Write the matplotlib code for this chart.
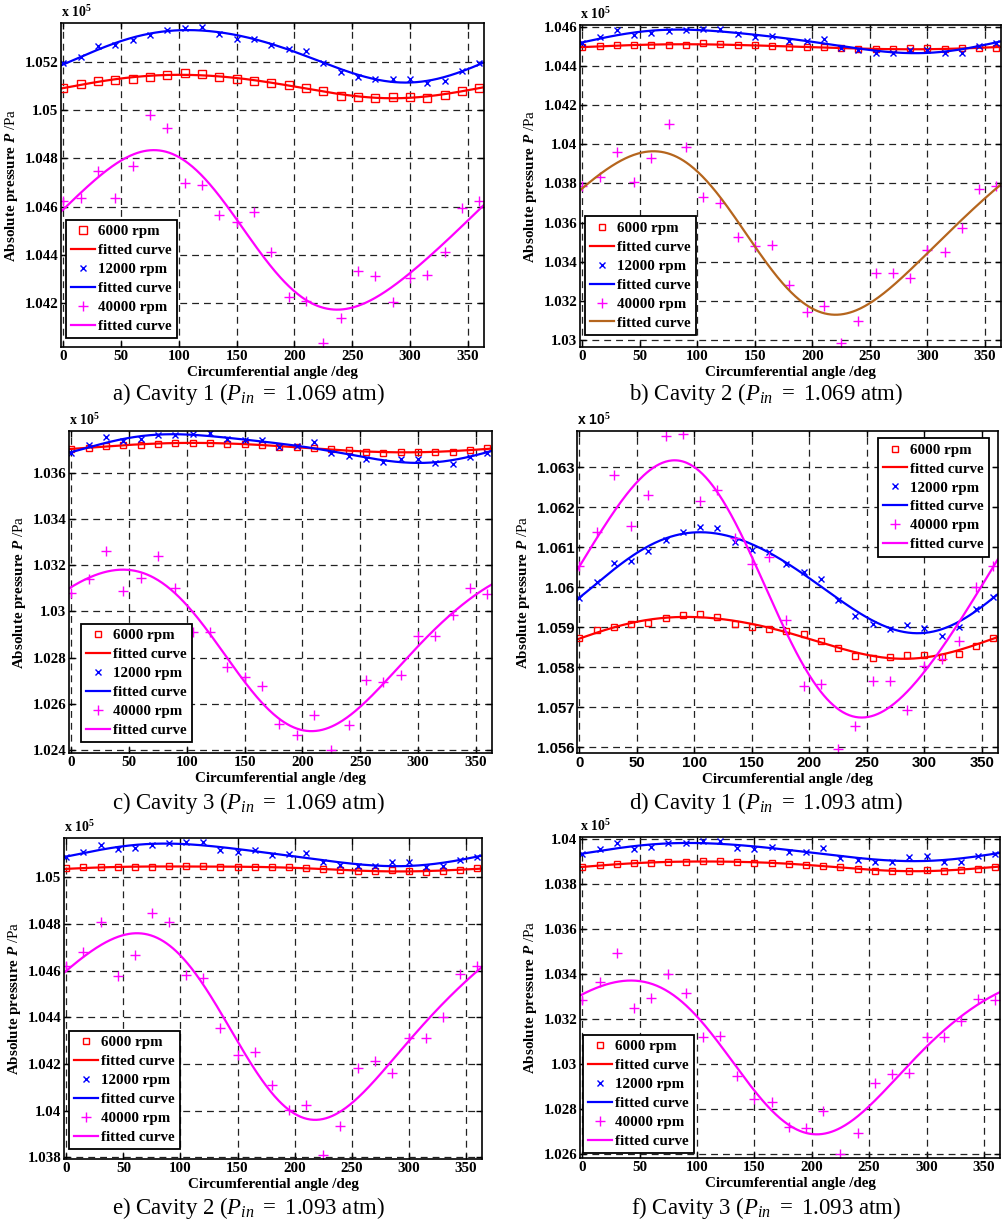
import numpy as np
import matplotlib
matplotlib.use("Agg")
import matplotlib.pyplot as plt

plt.rcParams['font.family'] = ['Liberation Serif', 'DejaVu Serif']
plt.rcParams['mathtext.fontset'] = 'custom'
plt.rcParams['mathtext.rm'] = 'Liberation Serif'
plt.rcParams['mathtext.it'] = 'Liberation Serif:italic'
plt.rcParams['mathtext.bf'] = 'Liberation Serif:bold'
plt.rcParams['mathtext.bfit'] = 'Liberation Serif:italic:bold'

# circumferential angle /deg
angle = [0, 15, 30, 45, 60, 75, 90, 105, 120, 135, 150, 165, 180,
         195, 210, 225, 240, 255, 270, 285, 300, 315, 330, 345, 360]

# absolute pressure, units of 1e5 Pa
# a) cavity 1, Pin = 1.069 atm
a_6000 = [1.05092, 1.05108, 1.05120, 1.05126, 1.05130, 1.05137, 1.05147, 1.05153, 1.05148,
          1.05136, 1.05127, 1.05122, 1.05112, 1.05105, 1.05093, 1.05079, 1.05059, 1.05053,
          1.05050, 1.05056, 1.05056, 1.05050, 1.05061, 1.05078, 1.05092]
a_12000 = [1.05193, 1.05221, 1.05264, 1.05267, 1.05289, 1.05311, 1.05330, 1.05339, 1.05344,
           1.05315, 1.05295, 1.05295, 1.05267, 1.05253, 1.05245, 1.05193, 1.05157, 1.05136,
           1.05127, 1.05130, 1.05127, 1.05111, 1.05119, 1.05163, 1.05193]
a_40000 = [1.04623, 1.04636, 1.04749, 1.04638, 1.04768, 1.04981, 1.04926, 1.04697, 1.04688,
           1.04566, 1.04535, 1.04580, 1.04414, 1.04225, 1.04211, 1.04038, 1.04141, 1.04336,
           1.04315, 1.04207, 1.04307, 1.04317, 1.04413, 1.04594, 1.04625]

# b) cavity 2, Pin = 1.069 atm
b_6000 = [1.04496, 1.04503, 1.04508, 1.04508, 1.04505, 1.04508, 1.04508, 1.04515, 1.04511,
          1.04505, 1.04505, 1.04501, 1.04498, 1.04498, 1.04496, 1.04491, 1.04488, 1.04484,
          1.04484, 1.04489, 1.04489, 1.04484, 1.04489, 1.04489, 1.04494]
b_12000 = [1.04518, 1.04549, 1.04583, 1.04559, 1.04568, 1.04580, 1.04583, 1.04588, 1.04591,
           1.04564, 1.04549, 1.04554, 1.04528, 1.04528, 1.04540, 1.04494, 1.04479, 1.04467,
           1.04467, 1.04482, 1.04482, 1.04467, 1.04467, 1.04501, 1.04515]
b_40000 = [1.03787, 1.03830, 1.03961, 1.03806, 1.03927, 1.04104, 1.03985, 1.03728, 1.03701,
           1.03527, 1.03481, 1.03484, 1.03283, 1.03142, 1.03176, 1.02982, 1.03096, 1.03344,
           1.03344, 1.03319, 1.03459, 1.03450, 1.03574, 1.03772, 1.03787]

# c) cavity 3, Pin = 1.069 atm
c_6000 = [1.03702, 1.03705, 1.03715, 1.03721, 1.03721, 1.03724, 1.03727, 1.03730, 1.03730,
          1.03724, 1.03724, 1.03721, 1.03711, 1.03709, 1.03705, 1.03702, 1.03696, 1.03688,
          1.03686, 1.03691, 1.03691, 1.03688, 1.03691, 1.03698, 1.03705]
c_12000 = [1.03685, 1.03718, 1.03754, 1.03735, 1.03745, 1.03763, 1.03763, 1.03767, 1.03771,
           1.03745, 1.03740, 1.03740, 1.03711, 1.03714, 1.03731, 1.03685, 1.03671, 1.03660,
           1.03646, 1.03658, 1.03658, 1.03642, 1.03636, 1.03668, 1.03685]
c_40000 = [1.03078, 1.03141, 1.03260, 1.03088, 1.03144, 1.03239, 1.03099, 1.02909, 1.02909,
           1.02761, 1.02714, 1.02675, 1.02514, 1.02465, 1.02553, 1.02400, 1.02509, 1.02704,
           1.02695, 1.02725, 1.02891, 1.02891, 1.02986, 1.03099, 1.03075]

# d) cavity 1, Pin = 1.093 atm
d_6000 = [1.05874, 1.05893, 1.05900, 1.05907, 1.05911, 1.05922, 1.05930, 1.05932, 1.05926,
          1.05909, 1.05900, 1.05896, 1.05891, 1.05883, 1.05866, 1.05847, 1.05827, 1.05823,
          1.05825, 1.05830, 1.05830, 1.05826, 1.05834, 1.05854, 1.05874]
d_12000 = [1.05974, 1.06012, 1.06060, 1.06066, 1.06091, 1.06117, 1.06137, 1.06150, 1.06148,
           1.06112, 1.06093, 1.06089, 1.06057, 1.06039, 1.06021, 1.05967, 1.05928, 1.05908,
           1.05895, 1.05905, 1.05899, 1.05879, 1.05901, 1.05945, 1.05976]
d_40000 = [1.06053, 1.06137, 1.06280, 1.06152, 1.06232, 1.06378, 1.06383, 1.06216, 1.06243,
           1.06124, 1.06058, 1.06075, 1.05919, 1.05753, 1.05758, 1.05595, 1.05653, 1.05764,
           1.05764, 1.05692, 1.05802, 1.05820, 1.05866, 1.06000, 1.06053]

# e) cavity 2, Pin = 1.093 atm
e_6000 = [1.05039, 1.05044, 1.05044, 1.05044, 1.05043, 1.05044, 1.05047, 1.05050, 1.05050,
          1.05046, 1.05043, 1.05044, 1.05043, 1.05044, 1.05041, 1.05036, 1.05030, 1.05027,
          1.05027, 1.05031, 1.05029, 1.05023, 1.05026, 1.05030, 1.05039]
e_12000 = [1.05087, 1.05111, 1.05139, 1.05121, 1.05127, 1.05140, 1.05146, 1.05153, 1.05150,
           1.05119, 1.05109, 1.05117, 1.05097, 1.05100, 1.05104, 1.05064, 1.05054, 1.05047,
           1.05047, 1.05066, 1.05066, 1.05043, 1.05049, 1.05076, 1.05087]
e_40000 = [1.04621, 1.04680, 1.04810, 1.04579, 1.04667, 1.04849, 1.04810, 1.04580, 1.04571,
           1.04356, 1.04240, 1.04251, 1.04110, 1.04003, 1.04026, 1.03810, 1.03936, 1.04181,
           1.04213, 1.04161, 1.04311, 1.04310, 1.04403, 1.04587, 1.04620]

# f) cavity 3, Pin = 1.093 atm
f_6000 = [1.03876, 1.03885, 1.03891, 1.03892, 1.03894, 1.03897, 1.03898, 1.03902, 1.03902,
          1.03898, 1.03895, 1.03895, 1.03889, 1.03886, 1.03880, 1.03876, 1.03865, 1.03860,
          1.03857, 1.03860, 1.03864, 1.03857, 1.03861, 1.03867, 1.03876]
f_12000 = [1.03933, 1.03954, 1.03981, 1.03957, 1.03963, 1.03981, 1.03981, 1.03991, 1.03991,
           1.03962, 1.03957, 1.03965, 1.03944, 1.03944, 1.03959, 1.03917, 1.03905, 1.03898,
           1.03897, 1.03919, 1.03923, 1.03898, 1.03898, 1.03923, 1.03932]
f_40000 = [1.03283, 1.03363, 1.03492, 1.03248, 1.03295, 1.03401, 1.03314, 1.03120, 1.03126,
           1.02946, 1.02844, 1.02829, 1.02721, 1.02714, 1.02789, 1.02600, 1.02692, 1.02914,
           1.02956, 1.02959, 1.03122, 1.03120, 1.03190, 1.03289, 1.03286]

captions = [r"a) Cavity 1 ($P_{in}\ =$ 1.069 atm)", r"b) Cavity 2 ($P_{in}\ =$ 1.069 atm)",
            r"c) Cavity 3 ($P_{in}\ =$ 1.069 atm)", r"d) Cavity 1 ($P_{in}\ =$ 1.093 atm)",
            r"e) Cavity 2 ($P_{in}\ =$ 1.093 atm)", r"f) Cavity 3 ($P_{in}\ =$ 1.093 atm)"]
speeds = ["6000 rpm", "12000 rpm", "40000 rpm"]


def fourier_fit(x, y, xs, n=2):
    # least squares fit with n harmonics over one revolution
    t = np.radians(np.asarray(x, float))
    ts = np.radians(xs)
    A = [np.ones_like(t)]
    As = [np.ones_like(ts)]
    for k in range(1, n + 1):
        A += [np.cos(k * t), np.sin(k * t)]
        As += [np.cos(k * ts), np.sin(k * ts)]
    coef = np.linalg.lstsq(np.array(A).T, np.asarray(y, float), rcond=None)[0]
    return np.array(As).T @ coef


W, H = 1003, 1222
fig = plt.figure(figsize=(W / 100, H / 100), dpi=100)

# (left, right, top, bottom) in pixels, ylim, ytick step, legend corner
panels = [
    dict(box=(61, 484, 23, 347), data=(a_6000, a_12000, a_40000), ylim=(1.0402, 1.0536),
         yt=(1.042, 1.052, 0.002), leg=('lower left', 66, 338), ms=5.2, c3='magenta'),
    dict(box=(580, 1001, 25, 347), data=(b_6000, b_12000, b_40000), ylim=(1.02964, 1.04609),
         yt=(1.030, 1.046, 0.002), leg=('lower left', 585, 335), ms=3.8, c3='#B5651D'),
    dict(box=(69, 492, 431, 753), data=(c_6000, c_12000, c_40000), ylim=(1.02387, 1.0378),
         yt=(1.024, 1.036, 0.002), leg=('lower left', 81, 742), ms=4.2, c3='magenta'),
    dict(box=(577, 998, 431, 753), data=(d_6000, d_12000, d_40000), ylim=(1.05585, 1.06391),
         yt=(1.056, 1.063, 0.001), leg=('upper right', 989, 438), ms=3.8, c3='magenta'),
    dict(box=(64, 482, 838, 1159), data=(e_6000, e_12000, e_40000), ylim=(1.03793, 1.05169),
         yt=(1.038, 1.050, 0.002), leg=('lower left', 69, 1149), ms=4.2, c3='magenta'),
    dict(box=(580, 1000, 837, 1158), data=(f_6000, f_12000, f_40000), ylim=(1.02582, 1.04009),
         yt=(1.026, 1.040, 0.002), leg=('lower left', 583, 1153), ms=4.2, c3='magenta'),
]

xlim = (-2, 364)
xs = np.linspace(xlim[0], xlim[1], 400)

for i, p in enumerate(panels):
    l, r, t, b = p['box']
    ax = fig.add_axes([l / W, 1 - b / H, (r - l) / W, (b - t) / H])
    tickfont = 'Liberation Sans' if i == 3 else 'Liberation Serif'
    d1, d2, d3 = p['data']

    ax.plot(angle, d1, 's', mfc='none', mec='red', ms=p['ms'], mew=1.0, label=speeds[0])
    ax.plot(xs, fourier_fit(angle, d1, xs), '-', color='red', lw=1.6, label='fitted curve')
    ax.plot(angle, d2, 'x', color='blue', ms=3.8, mew=1.0, label=speeds[1])
    ax.plot(xs, fourier_fit(angle, d2, xs), '-', color='blue', lw=1.6, label='fitted curve')
    ax.plot(angle, d3, '+', color='magenta', ms=6.5, mew=1.0, label=speeds[2])
    ax.plot(xs, fourier_fit(angle, d3, xs), '-', color=p['c3'], lw=1.6, label='fitted curve')

    ax.set_xlim(*xlim)
    ax.set_ylim(*p['ylim'])
    ax.set_xticks(np.arange(0, 351, 50))
    y0, y1, st = p['yt']
    ax.set_yticks(np.arange(y0, y1 + st / 2, st))
    ax.yaxis.set_major_formatter(matplotlib.ticker.FormatStrFormatter('%g'))
    ax.tick_params(direction='in', top=True, right=True, length=4.5, width=1,
                   labelsize=10.8, pad=2)
    for lab in ax.get_xticklabels() + ax.get_yticklabels():
        lab.set_fontweight('bold')
        lab.set_fontfamily(tickfont)
    for s in ax.spines.values():
        s.set_linewidth(1.2)
    ax.grid(True, color='#222222', linestyle=(0, (5.5, 4)), linewidth=0.9)

    ax.set_xlabel('Circumferential angle /deg', fontsize=10.8, fontweight='bold', labelpad=2)
    ax.set_ylabel(r'Absolute pressure $\mathbfit{P}$ $\mathrm{/Pa}$', fontsize=10.8,
                  fontweight='bold', labelpad=3)
    ax.text(0, 1.01, r'x 10$^{\mathbf{5}}$', transform=ax.transAxes, fontsize=10,
            fontweight='bold', family=tickfont, ha='left', va='bottom')

    loc, lx, ly = p['leg']
    leg = ax.legend(loc=loc, bbox_to_anchor=(lx / W, 1 - ly / H),
                    bbox_transform=fig.transFigure, fancybox=False, edgecolor='black',
                    framealpha=1, borderaxespad=0, borderpad=0.35, labelspacing=0.36,
                    handlelength=1.6, handletextpad=0.2, prop={'weight': 'bold', 'size': 10.8})
    leg.get_frame().set_linewidth(1.3)

    cy = [394, 394, 803, 803, 1208, 1208][i]
    fig.text(248 / W if i % 2 == 0 else 766 / W, 1 - cy / H, captions[i],
             fontsize=16.5, ha='center', va='center')

fig.savefig('out.png', dpi=100)
